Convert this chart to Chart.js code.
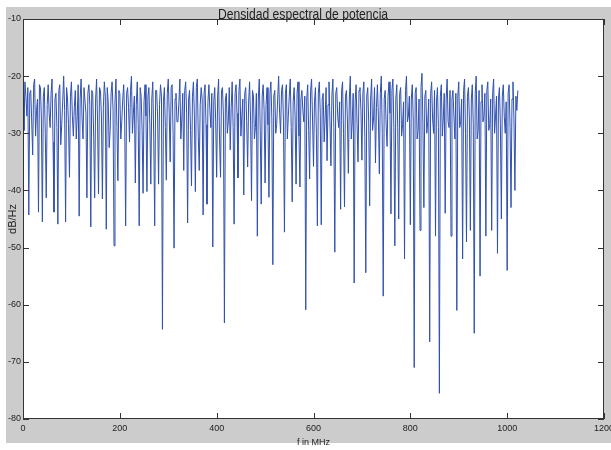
<!DOCTYPE html>
<html>
<head>
<meta charset="utf-8">
<script src="https://cdn.jsdelivr.net/npm/chart.js@4.4.1/dist/chart.umd.min.js"></script>
<style>
  html, body { margin: 0; padding: 0; background: #fff; }
</style>
</head>
<body>
<canvas id="myChart" width="611" height="450"></canvas>
<script>
const titleText = "Densidad espectral de potencia";
const xLabel = "f in MHz";
const yLabel = "dB/Hz";

// one sample every 2 MHz
const freqStepMHz = 2;
const psdDb = [
  -24.5, -29.5, -21.0, -23.5, -27.0, -22.0, -44.3, -23.0, -22.5, -28.0, -33.8, -21.5, -20.5, -30.5, -26.0, -24.0,
  -43.8, -21.5, -22.0, -27.5, -45.5, -23.5, -22.0, -30.0, -41.3, -25.0, -21.5, -26.5, -29.0, -23.0, -20.5, -31.5,
  -43.8, -24.0, -23.0, -29.0, -45.9, -22.5, -21.5, -32.0, -28.5, -24.5, -20.0, -26.0, -45.5, -22.0, -24.0, -28.5,
  -37.7, -23.5, -21.0, -27.0, -30.5, -25.5, -22.5, -31.0, -27.0, -21.5, -44.5, -24.0, -20.5, -27.5, -31.0, -22.0,
  -22.0, -26.5, -41.3, -23.0, -21.5, -25.0, -46.4, -22.5, -23.0, -30.5, -41.3, -24.0, -20.5, -28.0, -40.6, -22.0,
  -22.5, -27.0, -41.5, -25.5, -21.0, -23.5, -46.8, -22.0, -24.5, -32.5, -29.5, -23.0, -21.0, -26.0, -49.7, -24.5,
  -20.5, -29.0, -38.3, -22.5, -23.0, -31.0, -28.0, -24.0, -21.5, -27.5, -46.2, -23.0, -22.0, -25.5, -31.5, -22.5,
  -20.0, -30.0, -26.5, -23.5, -38.7, -25.0, -21.0, -28.5, -46.2, -22.0, -23.5, -29.5, -40.5, -24.5, -21.5, -27.0,
  -40.2, -23.5, -22.0, -28.5, -38.9, -24.0, -21.0, -30.5, -46.2, -22.5, -22.5, -27.0, -38.9, -25.0, -21.5, -23.5,
  -64.3, -24.5, -22.0, -29.0, -38.2, -23.0, -20.5, -26.5, -35.0, -22.0, -21.5, -30.0, -50.1, -24.0, -23.0, -28.0,
  -28.0, -24.5, -20.5, -31.0, -27.5, -23.0, -36.5, -22.5, -21.0, -26.5, -45.7, -24.0, -22.5, -29.5, -39.2, -23.5,
  -21.0, -27.0, -40.2, -22.0, -20.5, -30.5, -36.5, -25.0, -22.0, -24.0, -44.3, -23.0, -21.5, -28.5, -42.4, -24.5,
  -21.5, -26.0, -29.0, -23.0, -49.9, -24.5, -22.0, -28.0, -37.7, -23.5, -20.5, -31.5, -37.7, -22.5, -22.0, -27.0,
  -63.2, -24.0, -23.0, -30.0, -28.0, -22.0, -32.9, -25.5, -21.0, -29.0, -45.9, -23.0, -21.5, -26.5, -37.8, -22.5,
  -20.5, -30.5, -27.0, -24.0, -40.8, -23.0, -22.0, -28.0, -35.9, -24.5, -21.0, -27.5, -41.8, -22.5, -23.5, -31.0,
  -29.0, -23.0, -48.0, -24.0, -20.5, -29.5, -42.4, -23.5, -21.5, -26.0, -38.7, -25.0, -22.0, -28.5, -41.2, -23.0,
  -21.0, -27.5, -53.0, -23.5, -22.5, -30.0, -28.5, -24.0, -20.0, -26.5, -30.0, -22.5, -21.5, -28.0, -47.3, -23.0,
  -21.5, -31.0, -27.0, -23.5, -20.5, -29.0, -42.0, -24.5, -22.0, -27.0, -38.9, -23.0, -21.0, -30.5, -39.4, -24.0,
  -22.5, -26.0, -28.0, -23.5, -60.9, -24.0, -21.5, -29.5, -38.0, -22.5, -20.5, -27.5, -35.8, -24.5, -22.0, -30.0,
  -46.2, -23.0, -21.0, -26.5, -46.0, -24.0, -23.0, -31.5, -27.5, -22.0, -34.8, -25.0, -21.0, -28.0, -35.7, -23.5,
  -20.5, -29.0, -50.8, -23.0, -22.0, -27.0, -29.0, -24.5, -43.3, -22.5, -21.0, -30.0, -42.9, -23.5, -22.5, -27.5,
  -37.0, -24.0, -20.0, -31.0, -28.0, -23.0, -56.2, -24.5, -21.5, -28.5, -35.0, -22.5, -22.0, -26.0, -34.7, -23.0,
  -21.0, -30.5, -54.4, -23.5, -22.0, -28.0, -42.7, -24.0, -20.5, -29.5, -27.5, -22.0, -35.2, -25.5, -21.5, -27.0,
  -37.1, -23.0, -20.0, -30.0, -58.5, -24.0, -22.5, -28.5, -32.3, -23.5, -21.0, -26.5, -44.1, -22.5, -20.5, -29.0,
  -49.7, -24.0, -21.5, -29.0, -45.0, -23.0, -22.0, -30.5, -28.5, -24.5, -52.0, -22.5, -20.0, -28.0, -27.0, -23.5,
  -46.0, -24.0, -21.5, -27.5, -71.0, -23.0, -22.0, -31.0, -29.5, -24.0, -47.0, -22.0, -19.5, -28.5, -43.0, -23.5,
  -22.5, -30.0, -28.0, -24.0, -66.5, -23.0, -21.0, -27.5, -30.0, -22.5, -48.0, -24.5, -22.0, -29.0, -75.5, -23.5,
  -21.5, -30.5, -27.5, -23.0, -44.0, -24.0, -20.5, -28.0, -29.0, -22.5, -48.0, -24.0, -22.5, -27.0, -31.0, -23.0,
  -61.0, -23.5, -21.0, -29.0, -28.0, -24.0, -52.0, -22.5, -20.5, -30.0, -49.0, -23.5, -22.0, -27.5, -47.0, -24.0,
  -21.5, -28.5, -65.0, -23.0, -20.0, -31.0, -29.5, -22.5, -55.0, -24.5, -21.5, -28.0, -27.0, -23.0, -48.0, -22.5,
  -21.0, -29.5, -28.5, -24.0, -47.0, -23.0, -20.5, -30.0, -27.0, -23.5, -51.0, -24.0, -22.0, -28.5, -45.0, -23.5,
  -21.5, -27.0, -30.0, -24.5, -54.0, -23.0, -21.5, -29.0, -43.0, -24.0, -21.0, -27.5, -40.0, -23.5, -26.0, -22.5,
];

const xTicks = [0, 200, 400, 600, 800, 1000, 1200];
const yTicks = [-80, -70, -60, -50, -40, -30, -20, -10];

const sans = "'Liberation Sans', Arial, sans-serif";
const tickLen = 6;

// matlab look: gray figure, white axes, box and inward ticks, title on top
const matlabAxes = {
  id: "matlabAxes",
  beforeDraw(chart) {
    const { ctx, chartArea: a } = chart;
    ctx.save();
    ctx.fillStyle = "#ffffff";
    ctx.fillRect(0, 0, chart.width, chart.height);
    ctx.fillStyle = "#cccccc";
    ctx.fillRect(6, 7, chart.width - 6, 436);
    ctx.fillStyle = "#ffffff";
    ctx.fillRect(a.left, a.top, a.right - a.left, a.bottom - a.top);
    ctx.restore();
  },
  afterDraw(chart) {
    const { ctx, chartArea: a, scales } = chart;
    ctx.save();
    ctx.strokeStyle = "#333333";
    ctx.lineWidth = 1;
    ctx.strokeRect(a.left + 0.5, a.top + 0.5, a.right - a.left - 1, a.bottom - a.top - 1);
    ctx.beginPath();
    xTicks.forEach((v) => {
      const px = Math.round(scales.x.getPixelForValue(v)) + 0.5;
      ctx.moveTo(px, a.bottom);
      ctx.lineTo(px, a.bottom - tickLen);
      ctx.moveTo(px, a.top);
      ctx.lineTo(px, a.top + tickLen);
    });
    yTicks.forEach((v) => {
      const py = Math.round(scales.y.getPixelForValue(v)) + 0.5;
      ctx.moveTo(a.left, py);
      ctx.lineTo(a.left + tickLen, py);
      ctx.moveTo(a.right, py);
      ctx.lineTo(a.right - tickLen, py);
    });
    ctx.stroke();

    // narrow title, squeezed like the original
    ctx.fillStyle = "#222222";
    ctx.font = "15px " + sans;
    ctx.textAlign = "center";
    ctx.textBaseline = "alphabetic";
    ctx.translate(303, 19);
    ctx.scale(0.81, 1);
    ctx.fillText(titleText, 0, 0);
    ctx.restore();
  },
};

const ctx = document.getElementById("myChart").getContext("2d");

new Chart(ctx, {
  type: "line",
  data: {
    datasets: [
      {
        data: psdDb.map((v, i) => ({ x: i * freqStepMHz, y: v })),
        borderColor: "#3050b0",
        borderWidth: 1,
        pointRadius: 0,
        tension: 0,
        fill: false,
      },
    ],
  },
  options: {
    responsive: false,
    animation: false,
    layout: { padding: { left: 0, top: 19, right: 7, bottom: 0 } },
    plugins: {
      legend: { display: false },
      tooltip: { enabled: false },
    },
    scales: {
      x: {
        type: "linear",
        min: 0,
        max: 1200,
        afterBuildTicks: (s) => { s.ticks = xTicks.map((v) => ({ value: v })); },
        afterFit: (s) => { s.height = 31; s.paddingLeft = 0; s.paddingRight = 0; },
        ticks: {
          color: "#222222",
          font: { family: sans, size: 9 },
          padding: 4,
          maxRotation: 0,
          autoSkip: false,
          callback: (v) => String(v),
        },
        grid: { display: false, drawTicks: false },
        border: { display: false },
        title: {
          display: true,
          text: xLabel,
          color: "#222222",
          font: { family: sans, size: 9 },
          padding: { top: 0, bottom: 2 },
        },
      },
      y: {
        type: "linear",
        min: -80,
        max: -10,
        afterBuildTicks: (s) => { s.ticks = yTicks.map((v) => ({ value: v })); },
        afterFit: (s) => { s.width = 23; s.paddingTop = 0; s.paddingBottom = 0; },
        ticks: {
          color: "#222222",
          font: { family: sans, size: 9 },
          padding: 2,
          callback: (v) => String(v),
        },
        grid: { display: false, drawTicks: false },
        border: { display: false },
        title: {
          display: true,
          text: yLabel,
          color: "#222222",
          font: { family: sans, size: 11 },
          padding: { top: 6, bottom: 0 },
        },
      },
    },
  },
  plugins: [matlabAxes],
});
</script>
</body>
</html>
